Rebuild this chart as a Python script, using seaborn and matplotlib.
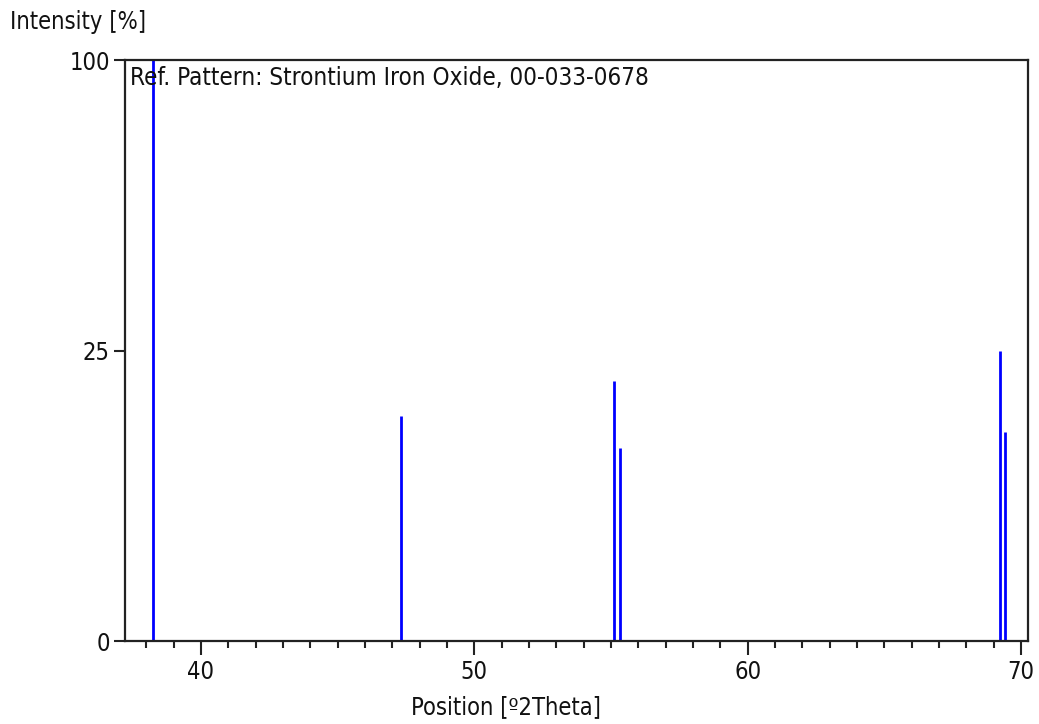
import numpy as np
import matplotlib
matplotlib.use("Agg")
import matplotlib.pyplot as plt
from matplotlib.ticker import FixedLocator, MultipleLocator
from matplotlib import font_manager
import seaborn as sns

# Reference pattern lines: position (2Theta) and relative intensity (%)
positions = [38.23, 47.31, 55.13, 55.35, 69.22, 69.43]
intensities = [100, 15, 20, 11, 25, 13]

x_ticks = [40, 50, 60, 70]
y_ticks = [0, 25, 100]
pattern_label = "Ref. Pattern: Strontium Iron Oxide, 00-033-0678"

sns.set_theme(style="white")
names = {f.name for f in font_manager.fontManager.ttflist}
narrow = [n for n in ["Liberation Sans Narrow", "DejaVu Sans Condensed"] if n in names]
plt.rcParams["font.family"] = narrow + ["DejaVu Sans"]
plt.rcParams["font.stretch"] = "condensed"
plt.rcParams["text.color"] = "#111111"

fig = plt.figure(figsize=(10.39, 7.24), dpi=100)
ax = fig.add_axes([0.1203, 0.1146, 0.8691, 0.8025])

ax.set_yscale("function", functions=(lambda y: np.sqrt(np.clip(y, 0, None)), lambda y: y ** 2))

ax.vlines(positions, 0, intensities, colors="#0000ff", linewidth=2)

ax.set_xlim(37.22, 70.26)
ax.set_ylim(0, 100)

ax.xaxis.set_major_locator(FixedLocator(x_ticks))
ax.xaxis.set_minor_locator(MultipleLocator(1))
ax.yaxis.set_major_locator(FixedLocator(y_ticks))
ax.yaxis.set_minor_locator(FixedLocator([]))
ax.set_yticklabels([str(v) for v in y_ticks])
ax.set_xticklabels([str(v) for v in x_ticks])

ax.tick_params(axis="x", which="major", direction="out", length=10, width=1.5,
               color="#222222", labelsize=17, labelcolor="#111111", pad=4, bottom=True)
ax.tick_params(axis="x", which="minor", direction="out", length=5, width=1.5,
               color="#222222", bottom=True)
ax.tick_params(axis="y", which="major", direction="out", length=8, width=1.5,
               color="#222222", labelsize=17, labelcolor="#111111", pad=3, left=True)

for s in ax.spines.values():
    s.set_color("#222222")
    s.set_linewidth(1.6)

fig.text(506 / 1039, 1 - 707 / 724, "Position [º2Theta]", fontsize=17,
         ha="center", va="center")
fig.text(10 / 1039, 1 - 22 / 724, "Intensity [%]", fontsize=17, ha="left", va="center")
ax.text(0.005, 0.99, pattern_label, transform=ax.transAxes, fontsize=17.4,
        ha="left", va="top")

fig.savefig("out.png", dpi=100)
